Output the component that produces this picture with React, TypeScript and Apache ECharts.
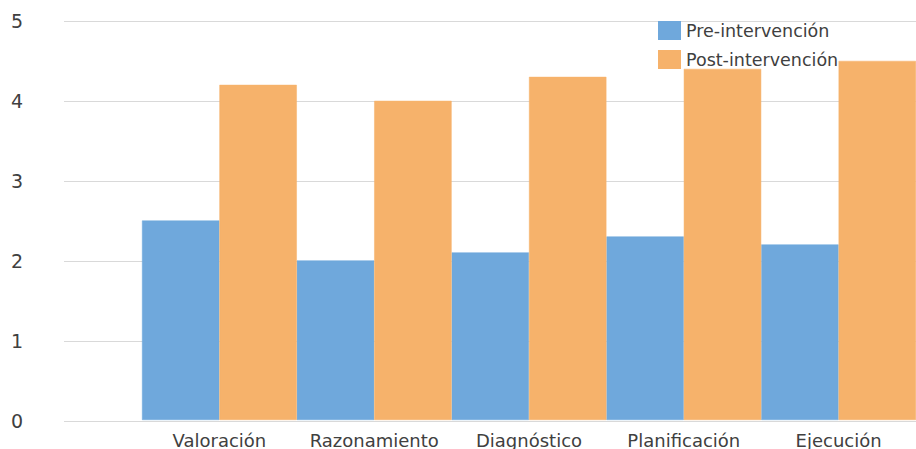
import React, { useEffect, useRef } from "react";
import * as echarts from "echarts";

const categories = ["Valoración", "Razonamiento", "Diagnóstico", "Planificación", "Ejecución"];
const preValues = [2.5, 2.0, 2.1, 2.3, 2.2];
const postValues = [4.2, 4.0, 4.3, 4.4, 4.5];
const seriesNames = ["Pre-intervención", "Post-intervención"];

export default function App() {
  const ref = useRef<HTMLDivElement>(null);
  useEffect(() => {
    if (!ref.current) return;
    const chart = echarts.init(ref.current, null, { renderer: "svg" });
    const font = "DejaVu Sans";
    chart.setOption({
      animation: false,
      backgroundColor: "#ffffff",
      textStyle: { fontFamily: font },
      legend: {
        orient: "vertical",
        left: 658,
        top: 21,
        icon: "rect",
        itemWidth: 21,
        itemHeight: 17,
        itemGap: 10,
        padding: 0,
        textStyle: { fontFamily: font, fontSize: 17.5, color: "#404040", padding: [0, 0, 0, 1] },
        data: seriesNames,
      },
      grid: [
        { left: 64, right: 0, top: 21, height: 400 },
        { left: 142, width: 780, top: 21, height: 400 },
      ],
      xAxis: [
        { type: "value", gridIndex: 0, show: false, min: 0, max: 1 },
        {
          type: "category",
          gridIndex: 1,
          data: categories,
          axisLine: { show: false },
          axisTick: { show: false },
          axisLabel: { fontFamily: font, fontSize: 18, color: "#404040", margin: 11, interval: 0 },
        },
      ],
      yAxis: [
        {
          type: "value",
          gridIndex: 0,
          min: 0,
          max: 5,
          interval: 1,
          axisLine: { show: false },
          axisTick: { show: false },
          axisLabel: { fontFamily: font, fontSize: 19, color: "#404040", margin: 53, align: "left" },
          splitLine: { lineStyle: { color: "#d9d9d9", width: 1 } },
        },
        { type: "value", gridIndex: 1, min: 0, max: 5, interval: 1, show: false, splitLine: { show: false } },
      ],
      series: [
        {
          name: seriesNames[0],
          type: "bar",
          xAxisIndex: 1,
          yAxisIndex: 1,
          data: preValues,
          barGap: "0%",
          barCategoryGap: "0%",
          itemStyle: { color: "#6FA8DC", borderColor: "#6FA8DC", borderWidth: 0.5 },
        },
        {
          name: seriesNames[1],
          type: "bar",
          xAxisIndex: 1,
          yAxisIndex: 1,
          data: postValues,
          barGap: "0%",
          barCategoryGap: "0%",
          itemStyle: { color: "#F6B26B", borderColor: "#F6B26B", borderWidth: 0.5 },
        },
      ],
    });
    return () => chart.dispose();
  }, []);
  return (
    <div
      ref={ref}
      style={{ position: "fixed", left: 0, top: 0, width: 916, height: 449 }}
    />
  );
}
